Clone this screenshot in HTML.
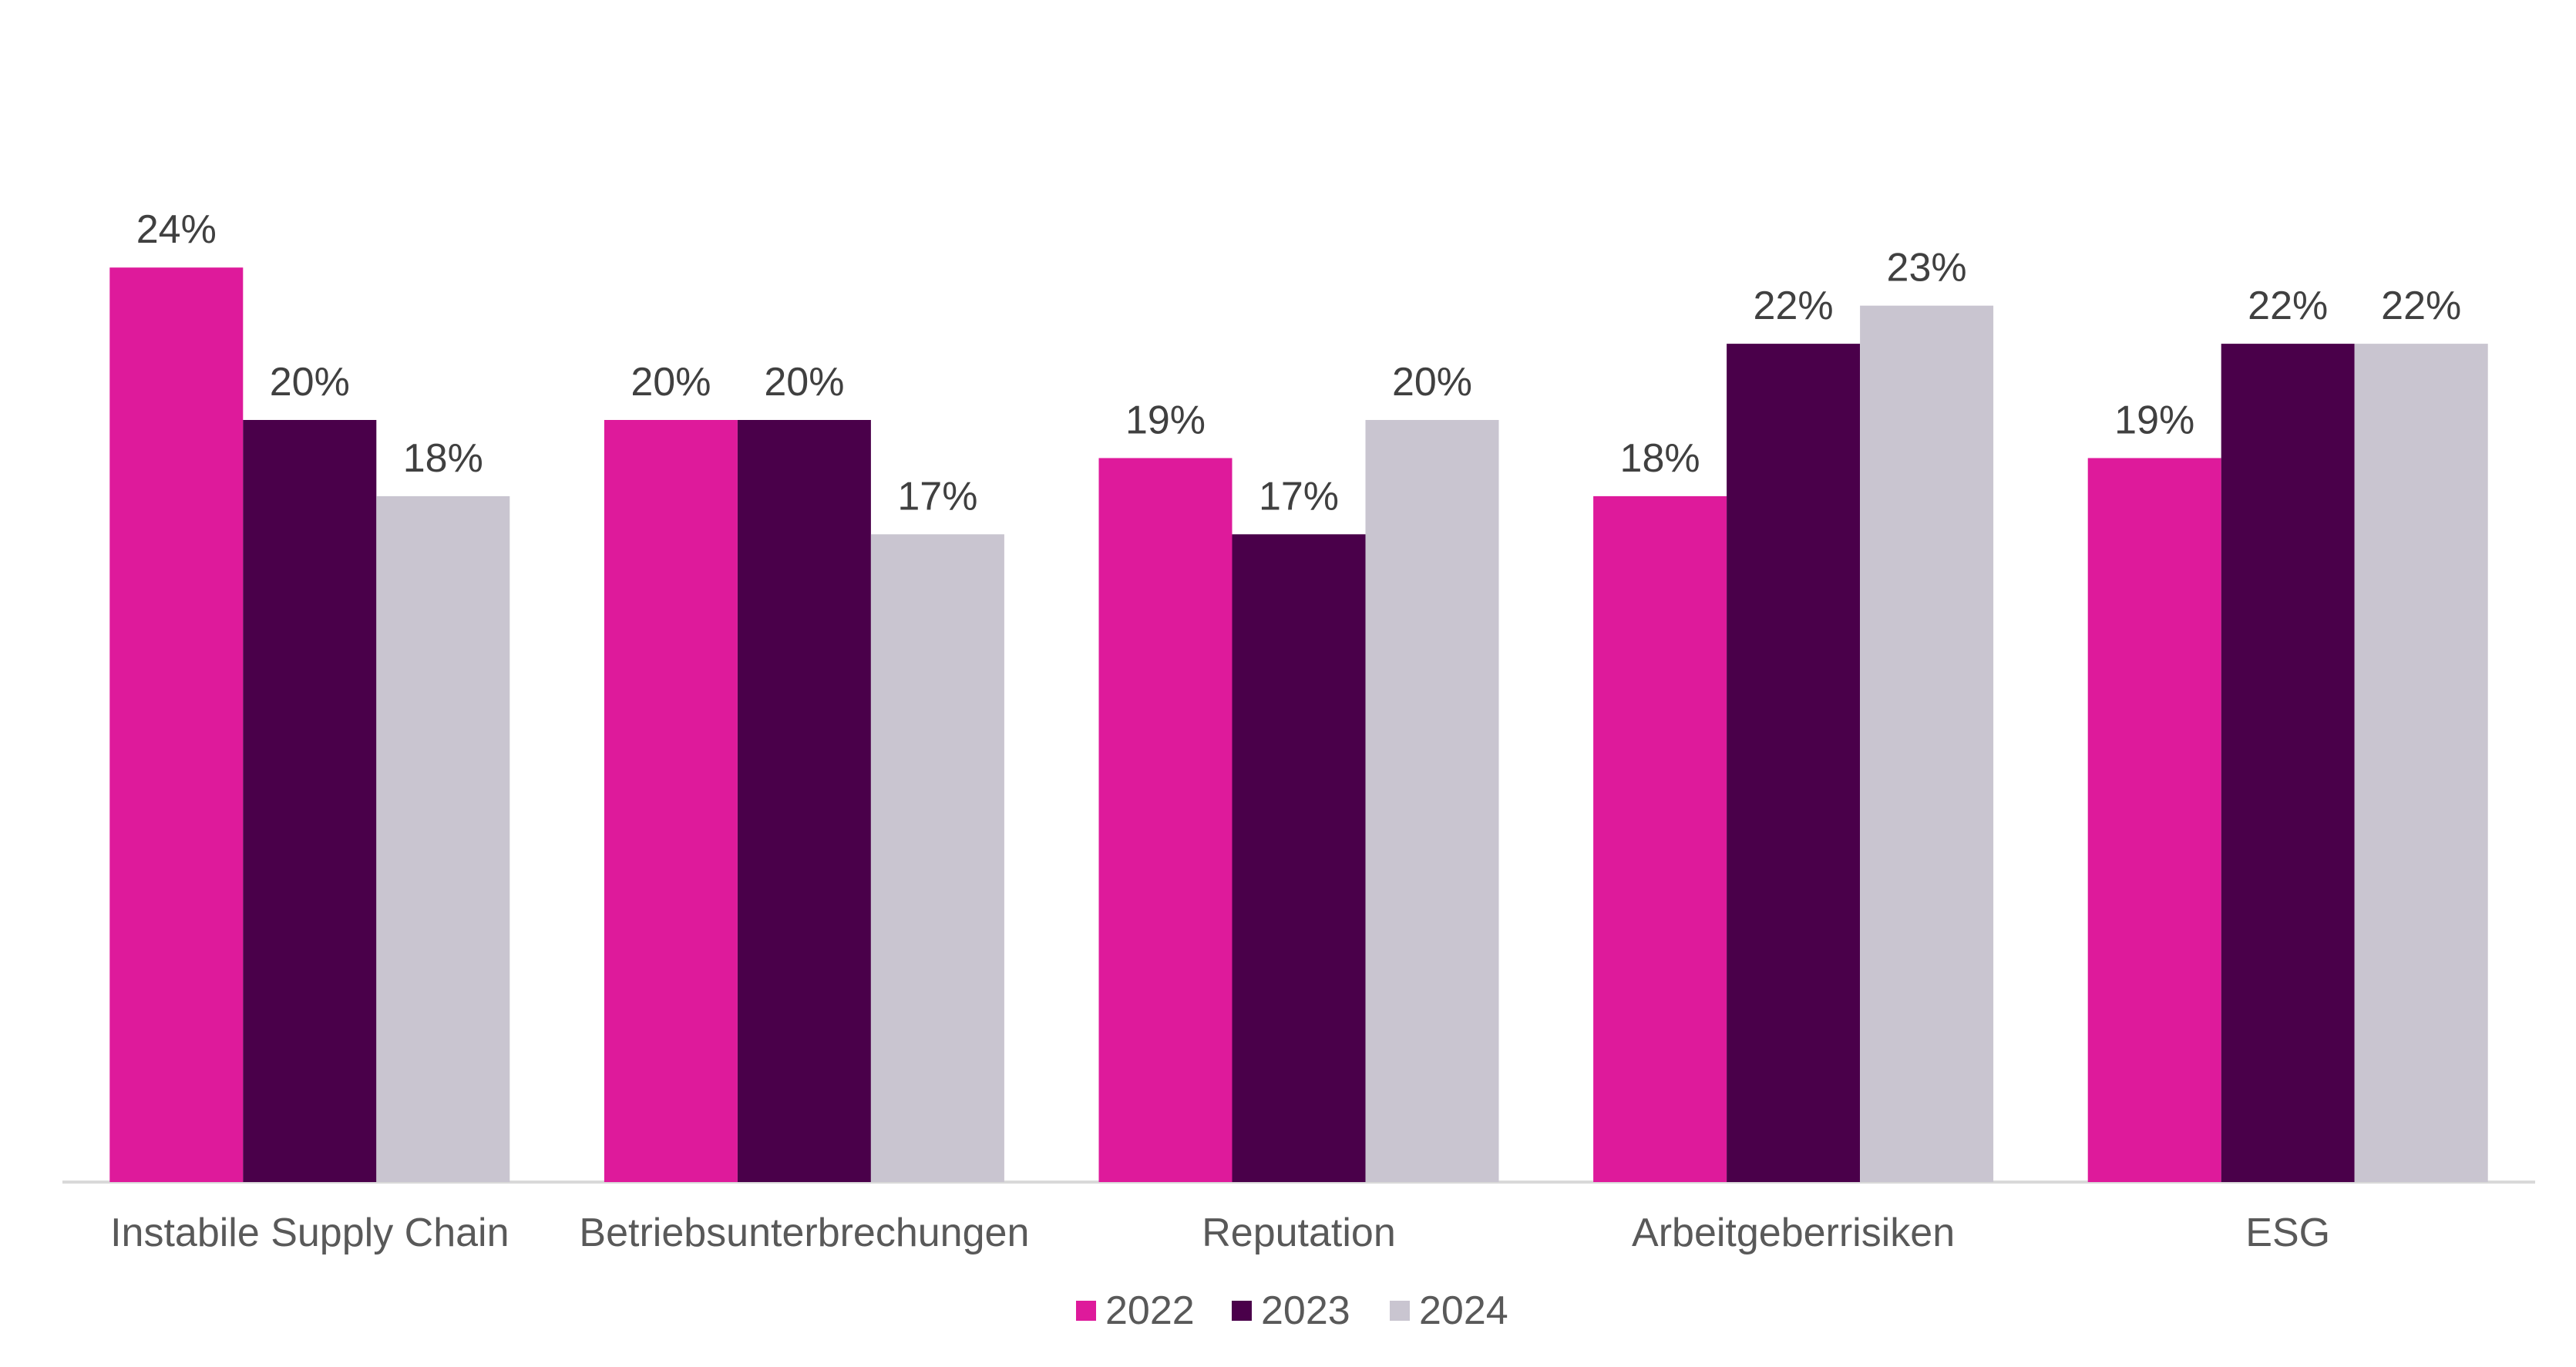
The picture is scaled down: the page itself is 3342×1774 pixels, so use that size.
<!DOCTYPE html>
<html><head><meta charset="utf-8"><style>
html,body{margin:0;padding:0;background:#fff;}
svg{display:block;font-family:"Liberation Sans",Arial,sans-serif;}
</style></head><body>
<svg id="chart" width="3342" height="1774" viewBox="0 0 3342 1774">
<line x1="81" y1="1534" x2="3289" y2="1534" stroke="#D9D9D9" stroke-width="4"/>
<g id="bars"></g>
<g id="labels"></g>
<g>
<g><rect x="1396" y="1688" width="26" height="26" fill="#DE1A9B"/><text x="1434" y="1718" font-size="52" fill="#595959">2022</text></g>
<g><rect x="1598" y="1688" width="26" height="26" fill="#4A004A"/><text x="1636" y="1718" font-size="52" fill="#595959">2023</text></g>
<g><rect x="1803" y="1688" width="26" height="26" fill="#C9C5D0"/><text x="1841" y="1718" font-size="52" fill="#595959">2024</text></g>
</g>
</svg>
<script>
const categories = ["Instabile Supply Chain","Betriebsunterbrechungen","Reputation","Arbeitgeberrisiken","ESG"];
const series2022 = [24,20,19,18,19];
const series2023 = [20,20,17,22,22];
const series2024 = [18,17,20,23,22];
const seriesNames = ["2022","2023","2024"];
const colors = ["#DE1A9B","#4A004A","#C9C5D0"];
const allSeries = [series2022,series2023,series2024];
const NS="http://www.w3.org/2000/svg";
const plotL=81, plotR=3289, baseY=1534, pxPerUnit=49.45;
const groupW=(plotR-plotL)/categories.length, barW=173;
function xBand(i){return plotL+i*groupW;}
function yScale(v){return baseY - v*pxPerUnit;}
const bars=document.getElementById('bars'), labels=document.getElementById('labels');
categories.forEach((c,i)=>{
  const gx=xBand(i)+(groupW-3*barW)/2;
  allSeries.forEach((s,j)=>{
    const r=document.createElementNS(NS,'rect');
    
    
    r.setAttribute('x',gx+j*barW);r.setAttribute('y',yScale(s[i]));
    r.setAttribute('width',barW);r.setAttribute('height',baseY-yScale(s[i]));
    r.setAttribute('fill',colors[j]);bars.appendChild(r);
    const t=document.createElementNS(NS,'text');
    
    
    t.setAttribute('x',gx+j*barW+barW/2);t.setAttribute('y',yScale(s[i])-32);
    t.setAttribute('text-anchor','middle');t.setAttribute('font-size','52');t.setAttribute('fill','#404040');
    t.textContent=s[i]+'%';labels.appendChild(t);
  });
  const t=document.createElementNS(NS,'text');
  
  
  t.setAttribute('x',xBand(i)+groupW/2);t.setAttribute('y',1617);
  t.setAttribute('text-anchor','middle');t.setAttribute('font-size','52');t.setAttribute('fill','#595959');
  t.textContent=c;labels.appendChild(t);
});
</script>
</body></html>
